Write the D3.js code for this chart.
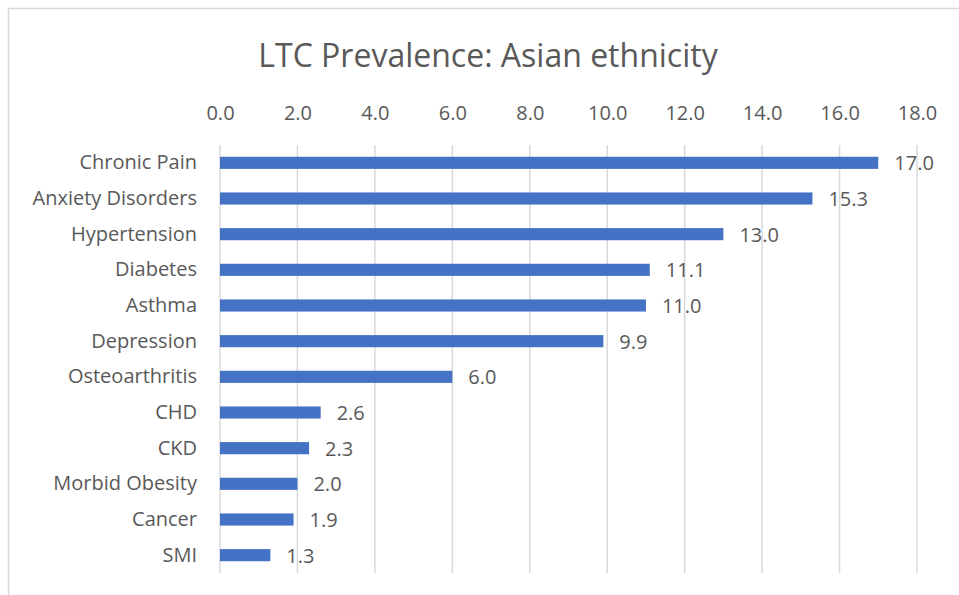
<!DOCTYPE html>
<html>
<head>
<meta charset="utf-8">
<script src="https://cdn.jsdelivr.net/npm/d3@7"></script>
<style>
  html, body { margin: 0; padding: 0; background: #fff; }
  svg { display: block; }
  text { font-family: "Open Sans", "Noto Sans", sans-serif; fill: #595959; }
</style>
</head>
<body>
<svg id="chart" width="959" height="595"></svg>
<script>
// Long-term condition prevalence (%) for people of Asian ethnicity
const conditions = ["Chronic Pain", "Anxiety Disorders", "Hypertension", "Diabetes", "Asthma",
  "Depression", "Osteoarthritis", "CHD", "CKD", "Morbid Obesity", "Cancer", "SMI"];
const prevalence = [17.0, 15.3, 13.0, 11.1, 11.0, 9.9, 6.0, 2.6, 2.3, 2.0, 1.9, 1.3];
const tickValues = [0, 2, 4, 6, 8, 10, 12, 14, 16, 18];
const chartTitle = "LTC Prevalence: Asian ethnicity";

const svg = d3.select("#chart");
const W = 959, H = 595;
const labelFont = "20px";

// chart frame
svg.append("rect")
  .attr("x", 8.5).attr("y", 8.5)
  .attr("width", W + 10).attr("height", H + 10)
  .attr("fill", "#fff").attr("stroke", "#d9d9d9").attr("stroke-width", 1.5);

const margin = { left: 220, right: 42, top: 145, bottom: 22 };
const x = d3.scaleLinear().domain([0, 18]).range([margin.left, W - margin.right]);
const y = d3.scaleBand().domain(conditions).range([margin.top, H - margin.bottom]).paddingInner(0.66).paddingOuter(0.33);

// title
svg.append("text")
  .attr("x", 488).attr("y", 54)
  .attr("text-anchor", "middle").attr("dominant-baseline", "central")
  .style("font-size", "32px")
  .text(chartTitle);

// vertical gridlines
svg.append("g").selectAll("line").data(tickValues).join("line")
  .attr("x1", d => x(d)).attr("x2", d => x(d))
  .attr("y1", margin.top).attr("y2", H - margin.bottom)
  .attr("stroke", "#d9d9d9").attr("stroke-width", 1.5);

// top axis labels
const xAxis = d3.axisTop(x).tickValues(tickValues).tickFormat(d3.format(".1f")).tickSize(0).tickPadding(0);
const gx = svg.append("g").attr("transform", `translate(0,${120})`).call(xAxis);
gx.select(".domain").remove();
gx.selectAll("text").style("font-size", labelFont).attr("fill", "#595959").attr("dy", 0)
  .style("font-family", '"Open Sans", "Noto Sans", sans-serif');

// category labels
const yAxis = d3.axisLeft(y).tickSize(0).tickPadding(0);
const gy = svg.append("g").attr("transform", `translate(${197},0)`).call(yAxis);
gy.select(".domain").remove();
gy.selectAll("text").style("font-size", labelFont).attr("fill", "#595959")
  .style("font-family", '"Open Sans", "Noto Sans", sans-serif');

// bars
svg.append("g").selectAll("rect").data(conditions).join("rect")
  .attr("x", x(0))
  .attr("y", d => y(d))
  .attr("width", (d, i) => x(prevalence[i]) - x(0))
  .attr("height", y.bandwidth())
  .attr("fill", "#4472c4");

// value labels
svg.append("g").selectAll("text").data(conditions).join("text")
  .attr("x", (d, i) => x(prevalence[i]) + 16)
  .attr("y", d => y(d) + y.bandwidth() / 2)
  .attr("dominant-baseline", "central")
  .style("font-size", labelFont)
  .text((d, i) => d3.format(".1f")(prevalence[i]));
</script>
</body>
</html>
